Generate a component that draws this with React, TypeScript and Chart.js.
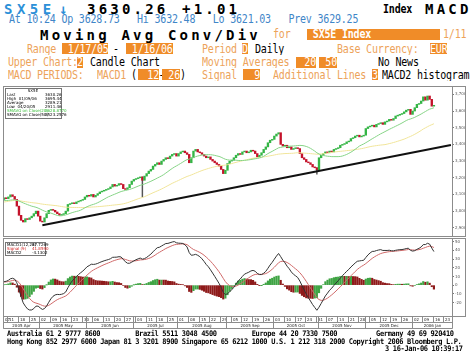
import React, { useEffect, useRef } from 'react';
import { Chart, registerables } from 'chart.js';

Chart.register(...registerables);

// ---------------- DATA ----------------
// SX5E daily closes, one array per month (Mon-Fri trading days)
const jan05 = [2965, 2970, 2955, 2940, 2945, 2950, 2960, 2975, 2970, 2980, 2985];
const feb05 = [2995, 3000, 3005, 3025, 3040, 3035, 3045, 3040, 3055, 3055, 3060, 3065, 3055, 3060, 3065, 3035, 3045, 3060, 3075, 3070];
const mar05 = [3072, 3065, 3060, 3085, 3095, 3090, 3080, 3075, 3070, 3070, 3060, 3065, 3070, 3075, 3065, 3055, 3050, 3055, 3055, 3055, 3060, 3050, 3065];
const apr05 = [3070, 3060, 3065, 3070, 3080, 3075, 3085, 3098, 3088, 3070, 3030, 2975, 2945, 2935, 2955, 2950, 2960, 2970, 2985, 3000, 2970];
const may05 = [2940, 2935, 2960, 2985, 3005, 3010, 3005, 2995, 2985, 2975, 2980, 2985, 3000, 3040, 3045, 3050, 3045, 3055, 3060, 3065, 3070, 3085];
const jun05 = [3095, 3090, 3100, 3085, 3095, 3105, 3115, 3120, 3125, 3130, 3135, 3145, 3160, 3150, 3155, 3165, 3160, 3135, 3130, 3140, 3160, 3180];
const jul05 = [3190, 3195, 3200, 3205, 3185, 3210, 3225, 3240, 3250, 3270, 3280, 3290, 3280, 3300, 3310, 3320, 3315, 3330, 3340, 3345, 3330];
const aug05 = [3345, 3355, 3360, 3350, 3340, 3290, 3320, 3360, 3370, 3355, 3350, 3340, 3330, 3320, 3325, 3310, 3300, 3290, 3280, 3270, 3250, 3225, 3245];
const sep05 = [3285, 3300, 3305, 3320, 3335, 3345, 3340, 3355, 3360, 3350, 3355, 3365, 3360, 3345, 3325, 3335, 3350, 3370, 3385, 3410, 3425, 3430];
const oct05 = [3450, 3462, 3470, 3400, 3390, 3395, 3380, 3385, 3370, 3375, 3380, 3375, 3345, 3320, 3310, 3295, 3290, 3280, 3265, 3260, 3248];
const nov05 = [3320, 3335, 3345, 3355, 3350, 3360, 3355, 3370, 3375, 3380, 3395, 3400, 3405, 3415, 3420, 3435, 3440, 3450, 3455, 3445, 3450, 3455];
const dec05 = [3495, 3505, 3510, 3515, 3505, 3520, 3525, 3530, 3520, 3535, 3540, 3550, 3545, 3555, 3570, 3575, 3580, 3585, 3595, 3605, 3610, 3580];
const jan06 = [3600, 3620, 3640, 3645, 3660, 3685, 3665, 3690, 3670, 3629.25, 3630.26];

const FIRST_DATE = '2005-01-17';
const VISIBLE_FROM = '2005-04-07';
const FUTURE_SLOTS = 8;
// long lower shadows visible on the chart
const wickLows: [string, number][] = [['2005-07-07', 3085], ['2005-10-31', 3222]];
// hand-drawn trend line end points
const trendLine: [string, number][] = [['2005-05-03', 2915], ['2006-01-26', 3396]];
const priceTicks = [2900, 3000, 3100, 3200, 3300, 3400, 3500, 3600, 3700];
const macdTicks = [-20, -10, 0, 10, 20, 30, 40, 50];
const monthNames = ['Jan', 'Feb', 'Mar', 'Apr', 'May', 'Jun', 'Jul', 'Aug', 'Sep', 'Oct', 'Nov', 'Dec'];
const upperLegendTitle = 'SX5E';
const upperLegendRows: [string, string, string][] = [
  ['Last', '3630.26', '#000'],
  ['High  01/09/06', '3695.44', '#000'],
  ['Average', '3289.21', '#000'],
  ['Low  04/20/05', '2911.46', '#000'],
  ['SMAVG on Close(20)', '3628.8770', '#3cbf3c'],
  ['SMAVG on Close(50)', '3523.2576', '#000'],
];
const lowerLegendRows: [string, string, string][] = [
  ['MACD1(12,26)', '37.7269', '#000'],
  ['Signal (9)', '41.8590', '#d02020'],
  ['MACD2', '-4.1302', '#000'],
];

// ---------------- derived series ----------------
const closes: number[] = [jan05, feb05, mar05, apr05, may05, jun05, jul05, aug05, sep05, oct05, nov05, dec05, jan06].flat();

function weekdaySeries(startIso: string, n: number): string[] {
  const out: string[] = [];
  const d = new Date(startIso + 'T00:00:00Z');
  while (out.length < n) {
    const wd = d.getUTCDay();
    if (wd !== 0 && wd !== 6) out.push(d.toISOString().slice(0, 10));
    d.setUTCDate(d.getUTCDate() + 1);
  }
  return out;
}
const allDates = weekdaySeries(FIRST_DATE, closes.length + FUTURE_SLOTS);
const visStart = allDates.indexOf(VISIBLE_FROM);
const labels = allDates.slice(visStart);

function sma(a: number[], n: number): (number | null)[] {
  return a.map((_, i) => {
    if (i < n - 1) return null;
    let s = 0;
    for (let k = i - n + 1; k <= i; k++) s += a[k];
    return s / n;
  });
}
function ema(a: number[], n: number): number[] {
  const k = 2 / (n + 1);
  let e = a[0];
  return a.map((v, i) => (i === 0 ? e : (e = v * k + e * (1 - k))));
}
const opens = closes.map((c, i) => (i === 0 ? c : closes[i - 1]));
const ma20 = sma(closes, 20);
const ma50 = sma(closes, 50);
const e12 = ema(closes, 12);
const e26 = ema(closes, 26);
const macd = e12.map((v, i) => v - e26[i]);
const signal = ema(macd, 9);
const hist = macd.map((v, i) => v - signal[i]);

const vis = <T,>(arr: T[]) => labels.map((_, j) => (visStart + j < closes.length ? arr[visStart + j] : null));

const UP = '#34b545';
const DOWN = '#c4122a';

// ---------------- plugins ----------------
const GRAY = '#8c8c8c';
function framePlugin(id: string) {
  return {
    id,
    afterDraw(chart: any) {
      const { ctx, chartArea: a, width } = chart;
      const L = Math.round(a.left) + 0.5, T = Math.round(a.top) + 0.5;
      const R = Math.round(a.right) + 0.5, B = Math.round(a.bottom) - 0.5;
      ctx.save();
      ctx.strokeStyle = GRAY;
      ctx.lineWidth = 1;
      ctx.strokeRect(L, T, R - L, B - T);
      ctx.strokeRect(R, T, width - 0.5 - R, B - T);
      ctx.restore();
    },
  };
}
function legendPlugin(id: string, box: [number, number, number, number], title: string | null, rows: [string, string, string][], lh: number, valX: number) {
  return {
    id,
    afterDraw(chart: any) {
      const { ctx } = chart;
      const [bx, by, bw, bh] = box;
      ctx.save();
      ctx.fillStyle = '#fff';
      ctx.fillRect(bx, by, bw, bh);
      ctx.strokeStyle = '#777';
      ctx.lineWidth = 1;
      ctx.strokeRect(bx + 0.5, by + 0.5, bw, bh);
      ctx.font = '4px "DejaVu Sans"';
      ctx.textBaseline = 'middle';
      let y = by + 3.2;
      if (title) {
        ctx.fillStyle = '#000';
        ctx.textAlign = 'center';
        ctx.fillText(title, bx + bw / 2, y);
        y += lh;
      }
      rows.forEach(([l, v, c]) => {
        ctx.fillStyle = c;
        ctx.textAlign = 'left';
        ctx.fillText(l, bx + 2, y);
        ctx.fillText(v, bx + valX, y);
        y += lh;
      });
      ctx.restore();
    },
  };
}
const dateAxisPlugin = {
  id: 'dateAxis',
  afterDraw(chart: any) {
    const { ctx, chartArea: a } = chart;
    const x = chart.scales.x;
    const step = x.getPixelForValue(1) - x.getPixelForValue(0);
    const edge = (i: number) => Math.round(x.getPixelForValue(i) - step / 2) + 0.5;
    const r1 = Math.round(a.bottom) - 0.5;
    const r2 = r1 + 6, r3 = r1 + 12;
    const L = Math.round(a.left) + 0.5, R = Math.round(a.right) + 0.5;
    ctx.save();
    ctx.strokeStyle = GRAY;
    ctx.lineWidth = 1;
    ctx.beginPath();
    ctx.moveTo(L, r2); ctx.lineTo(R, r2);
    ctx.moveTo(L, r3); ctx.lineTo(R, r3);
    ctx.moveTo(L, r1); ctx.lineTo(L, r3);
    ctx.moveTo(R, r1); ctx.lineTo(R, r3);
    ctx.stroke();
    ctx.font = '4px "DejaVu Sans"';
    ctx.fillStyle = '#222';
    ctx.textBaseline = 'middle';
    const monthStarts: number[] = [];
    labels.forEach((d, i) => {
      const wd = new Date(d + 'T00:00:00Z').getUTCDay();
      const newMonth = i === 0 || d.slice(5, 7) !== labels[i - 1].slice(5, 7);
      if (newMonth) monthStarts.push(i);
      if (wd === 1 || i === 0) {
        const ex = edge(i);
        ctx.beginPath();
        ctx.moveTo(ex, r1); ctx.lineTo(ex, newMonth ? r3 : r2);
        ctx.stroke();
        ctx.textAlign = 'left';
        ctx.fillText(d.slice(8, 10), ex + 1.5, r1 + 3.2);
      } else if (newMonth) {
        const ex = edge(i);
        ctx.beginPath();
        ctx.moveTo(ex, r1); ctx.lineTo(ex, r3);
        ctx.stroke();
      }
    });
    monthStarts.forEach((s, k) => {
      const e = k + 1 < monthStarts.length ? monthStarts[k + 1] : labels.length;
      const cx = (edge(s) + edge(e)) / 2;
      const d = labels[s];
      ctx.textAlign = 'center';
      ctx.fillText(`${d.slice(0, 4)} ${monthNames[Number(d.slice(5, 7)) - 1]}`, cx, r2 + 3.2);
    });
    ctx.restore();
  },
};

function rightAxis(min: number, max: number, ticks: number[]) {
  return {
    position: 'right' as const,
    min,
    max,
    afterBuildTicks: (ax: any) => {
      ax.ticks = ticks.map((value) => ({ value }));
    },
    afterFit: (ax: any) => {
      ax.width = 14;
      ax.paddingTop = 0;
      ax.paddingBottom = 0;
    },
    grid: { drawOnChartArea: false, tickLength: 2, color: '#777' },
    border: { display: true, color: GRAY },
    ticks: { autoSkip: false, font: { size: 4, family: 'DejaVu Sans' }, color: '#555', padding: 1 },
  };
}

const baseOptions = {
  responsive: false,
  maintainAspectRatio: false,
  animation: false as const,
  devicePixelRatio: 1,
  events: [] as any[],
};

function upperConfig(): any {
  const o = vis(opens);
  const c = vis(closes);
  const bodies = labels.map((_, j) => (c[j] == null ? null : [o[j] as number, c[j] as number]));
  const colors = labels.map((_, j) => (c[j] != null && (c[j] as number) >= (o[j] as number) ? UP : DOWN));
  const wicks = labels.map((d, j) => {
    const w = wickLows.find(([wd]) => wd === d);
    if (!w || c[j] == null) return null;
    return [w[1], Math.max(o[j] as number, c[j] as number)];
  });
  const trend = labels.map((d) => {
    const t = trendLine.find(([td]) => td === d);
    return t ? t[1] : null;
  });
  return {
    type: 'bar',
    data: {
      labels,
      datasets: [
        { type: 'line', data: trend, borderColor: '#111', borderWidth: 2, pointRadius: 0, spanGaps: true, order: 0 },
        { type: 'line', data: vis(ma20), borderColor: '#86d486', borderWidth: 1, pointRadius: 0, order: 1 },
        { type: 'line', data: vis(ma50), borderColor: '#f1e59a', borderWidth: 1, pointRadius: 0, order: 1 },
        { type: 'bar', data: bodies, backgroundColor: colors, borderColor: '#333', borderWidth: 0, barThickness: 1.7, grouped: false, minBarLength: 0.8, order: 2 },
        { type: 'bar', data: wicks, backgroundColor: '#555', barThickness: 0.8, grouped: false, order: 3 },
      ],
    },
    options: {
      ...baseOptions,
      layout: { padding: 0 },
      plugins: { legend: { display: false }, tooltip: { enabled: false } },
      scales: {
        x: { type: 'category', display: false, offset: true, grid: { display: false } },
        y: rightAxis(2845, 3750, priceTicks),
      },
    },
    plugins: [framePlugin('frameU'), legendPlugin('legU', [2, 2, 56, 30], upperLegendTitle, upperLegendRows, 3.9, 40)],
  };
}

function lowerConfig(): any {
  const h = vis(hist);
  const hColors = labels.map((_, j) => {
    const i = visStart + j;
    return i < closes.length && hist[i] >= hist[i - 1] ? '#3fa444' : '#8e1a1a';
  });
  return {
    type: 'bar',
    data: {
      labels,
      datasets: [
        { type: 'line', data: vis(macd), borderColor: '#333', borderWidth: 1, pointRadius: 0, order: 0 },
        { type: 'line', data: vis(signal), borderColor: '#d06a6a', borderWidth: 1, pointRadius: 0, order: 0 },
        { type: 'bar', data: h, backgroundColor: hColors, barThickness: 1.5, grouped: false, order: 2 },
      ],
    },
    options: {
      ...baseOptions,
      layout: { padding: { bottom: 13 } },
      plugins: { legend: { display: false }, tooltip: { enabled: false } },
      scales: {
        x: { type: 'category', display: false, offset: true, grid: { display: false } },
        y: rightAxis(-36.7, 54.3, macdTicks),
      },
    },
    plugins: [framePlugin('frameL'), dateAxisPlugin, legendPlugin('legL', [2, 4, 40, 13], null, lowerLegendRows, 3.8, 27)],
  };
}

// ---------------- text helpers ----------------
const MONO = '"DejaVu Sans Mono", "Liberation Mono", monospace';
const BLUE = '#3f86c8';
const CYAN = '#2b90d8';
const ORANGE = '#eda35a';
const BOX = '#f08c28';

type TP = {
  x: number; y: number; c?: string; big?: boolean; bold?: boolean; bg?: string; w?: number;
  right?: boolean; ls?: number; size?: number; h?: number; sy?: number; children: React.ReactNode;
};
function Txt(p: TP) {
  const fs = p.size ?? (p.big ? 14 : 10);
  const h = p.h ?? (p.big ? 15 : 11);
  const sy = p.sy ?? (p.big ? 1 : 1.18);
  return (
    <div
      style={{
        position: 'absolute', left: p.x, top: p.y, width: p.w, height: h, background: p.bg,
        display: 'flex', alignItems: 'center', justifyContent: p.right ? 'flex-end' : 'flex-start',
        whiteSpace: 'pre', lineHeight: 1, overflow: 'visible',
      }}
    >
      <span
        style={{
          display: 'block', fontFamily: MONO, fontSize: fs, fontWeight: p.big || p.bold ? 700 : 400,
          color: p.bg ? '#fff' : p.c ?? '#000', letterSpacing: p.ls ?? (p.big ? 3.2 : -0.2), lineHeight: 1,
          transform: `scaleY(${sy})`, transformOrigin: 'center', whiteSpace: 'pre',
        }}
      >
        {p.children}
      </span>
    </div>
  );
}

export default function App() {
  const upRef = useRef<HTMLCanvasElement>(null);
  const loRef = useRef<HTMLCanvasElement>(null);
  useEffect(() => {
    const c1 = new Chart(upRef.current as HTMLCanvasElement, upperConfig());
    const c2 = new Chart(loRef.current as HTMLCanvasElement, lowerConfig());
    return () => {
      c1.destroy();
      c2.destroy();
    };
  }, []);
  return (
    <div style={{ position: 'fixed', left: 0, top: 0, width: 474, height: 359, background: '#fff', overflow: 'hidden' }}>
      {/* row 1 */}
      <Txt x={4} y={1} big c={CYAN} ls={4.5}>SX5E</Txt>
      <Txt x={59} y={1} big c={CYAN}>↓</Txt>
      <Txt x={87} y={1} big>3630.26</Txt>
      <Txt x={182} y={1} big>+1.01</Txt>
      <Txt x={383} y={3.5} bold>Index</Txt>
      <Txt x={425} y={1} big>MACD</Txt>
      {/* row 2 */}
      <Txt x={9} y={13} c={BLUE}>{'At 10:24 Op 3628.73   Hi 3632.48   Lo 3621.03   Prev 3629.25'}</Txt>
      {/* row 3 */}
      <Txt x={40} y={27.5} big>Moving Avg Conv/Div</Txt>
      <Txt x={273} y={28.5} c={ORANGE}>for</Txt>
      <Txt x={307} y={28.5} w={133} bg={BOX} bold>{' SX5E Index'}</Txt>
      <Txt x={443} y={28.5} c={ORANGE}>1/11</Txt>
      {/* row 4 */}
      <Txt x={27} y={43} c={ORANGE}>Range</Txt>
      <Txt x={62} y={43} w={46} bg={BOX}>{' 1/17/05'}</Txt>
      <Txt x={113} y={43}>-</Txt>
      <Txt x={126} y={43} w={47} bg={BOX}>{' 1/16/06'}</Txt>
      <Txt x={202} y={43} c={ORANGE}>Period</Txt>
      <Txt x={242} y={43} w={6} bg={BOX}>D</Txt>
      <Txt x={255} y={43}>Daily</Txt>
      <Txt x={337} y={43} c={ORANGE}>Base Currency:</Txt>
      <Txt x={430} y={43} w={17} bg={BOX}>EUR</Txt>
      {/* row 5 */}
      <Txt x={8} y={56.5} c={ORANGE}>Upper Chart:</Txt>
      <Txt x={77} y={56.5} w={6} bg={BOX}>2</Txt>
      <Txt x={90} y={56.5}>Candle Chart</Txt>
      <Txt x={202} y={56.5} c={ORANGE}>Moving Averages</Txt>
      <Txt x={296} y={56.5} w={20} bg={BOX} right>20</Txt>
      <Txt x={319} y={56.5} w={18} bg={BOX} right>50</Txt>
      <Txt x={378} y={56.5}>No News</Txt>
      {/* row 6 */}
      <Txt x={8} y={69} c={ORANGE}>MACD PERIODS:</Txt>
      <Txt x={97} y={69} c={ORANGE}>MACD1</Txt>
      <Txt x={131} y={69}>(</Txt>
      <Txt x={138} y={69} w={21} bg={BOX} right>12</Txt>
      <Txt x={158.5} y={69}>-</Txt>
      <Txt x={162} y={69} w={18} bg={BOX} right>26</Txt>
      <Txt x={180} y={69}>)</Txt>
      <Txt x={202} y={69} c={ORANGE}>Signal</Txt>
      <Txt x={243} y={69} w={17} bg={BOX} right>9</Txt>
      <Txt x={273} y={69} c={ORANGE}>Additional Lines</Txt>
      <Txt x={372} y={69} w={6} bg={BOX}>3</Txt>
      <Txt x={382} y={69}>MACD2 histogram</Txt>

      <canvas ref={upRef} width={463} height={151} style={{ position: 'absolute', left: 3, top: 86, width: 463, height: 151 }} />
      <canvas ref={loRef} width={463} height={92} style={{ position: 'absolute', left: 3, top: 238, width: 463, height: 92 }} />

      {/* footer */}
      <Txt x={7} y={330} size={7} bold ls={-0.33} h={8} sy={1.1}>{'Australia 61 2 9777 8600         Brazil 5511 3048 4500         Europe 44 20 7330 7500          Germany 49 69 920410'}</Txt>
      <Txt x={7} y={338} size={7} bold ls={-0.33} h={8} sy={1.1}>{'Hong Kong 852 2977 6000 Japan 81 3 3201 8900 Singapore 65 6212 1000 U.S. 1 212 318 2000 Copyright 2006 Bloomberg L.P.'}</Txt>
      <Txt x={385} y={345} size={7} bold ls={-0.33} h={8} sy={1.1}>{'3 16-Jan-06 10:39:17'}</Txt>
    </div>
  );
}
